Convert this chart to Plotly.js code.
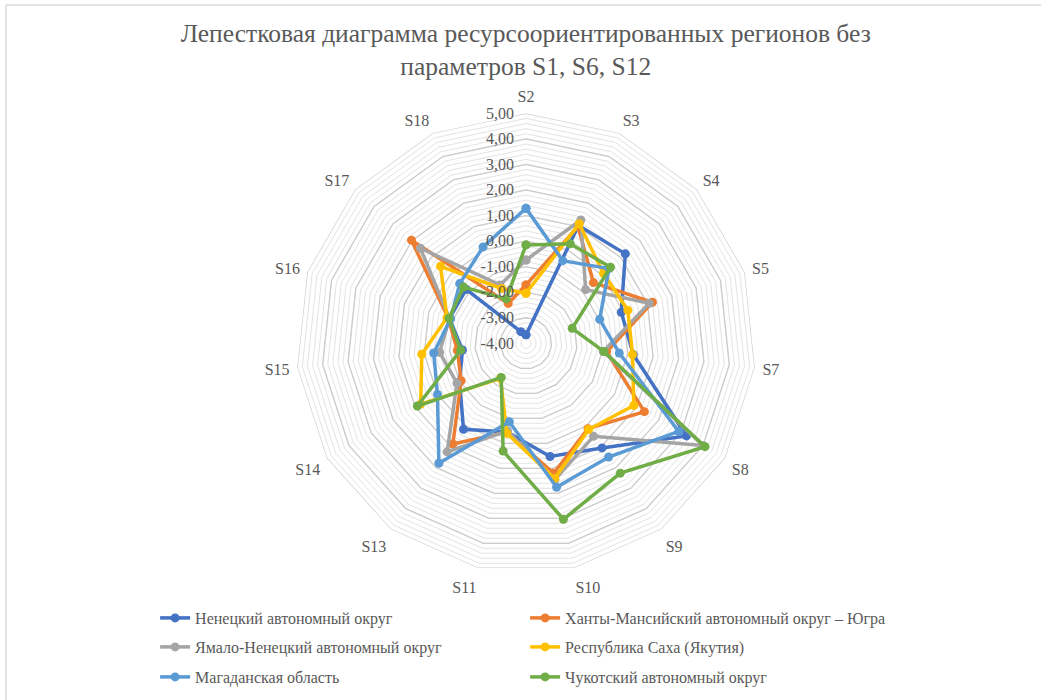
<!DOCTYPE html>
<html>
<head>
<meta charset="utf-8">
<script src="https://cdn.plot.ly/plotly-3.0.1.min.js"></script>
<style>html,body{margin:0;padding:0;background:#fff;}#chart{width:1041px;height:700px;}</style>
</head>
<body>
<div id="chart"></div>
<script>
const categories = ["S2","S3","S4","S5","S7","S8","S9","S10","S11","S13","S14","S15","S16","S17","S18"];
const seriesNames = ["Ненецкий автономный округ","Ханты-Мансийский автономный округ – Югра","Ямало-Ненецкий автономный округ","Республика Саха (Якутия)","Магаданская область","Чукотский автономный округ"];
const nenets   = [-3.67, 1.05, 1.23, -0.08, 0.22, 3.25, 1.06, 0.53, -0.45, 0.16, -1.00, -1.50, -0.85, -0.85, -3.50];
const khanty   = [-1.72, 1.00, -0.45, 1.20, -0.83, 1.35, 0.13, 1.20, -0.45, 0.87, -1.07, -1.30, -0.80, 2.03, -2.29];
const yamal    = [-0.74, 1.28, -0.86, 1.07, -0.96, 4.00, 0.50, 1.45, -0.50, 1.25, -0.88, -0.60, -0.85, 1.56, -1.50];
const sakha    = [-2.04, 1.12, 0.08, 0.19, 0.19, 0.87, 0.17, 1.41, -0.40, -2.30, 0.76, 0.10, -0.75, 0.50, -1.65];
const magadan  = [1.28, -0.46, 0.37, -0.97, -0.33, 2.90, 1.50, 1.76, -0.86, 1.80, 0.00, -0.37, -0.90, -0.51, 0.13];
const chukotka = [-0.15, 0.26, 0.45, -2.10, -0.93, 4.09, 2.28, 3.04, 0.31, -2.35, 0.91, -1.43, -0.83, -0.71, -2.10];
const seriesColors = ["#4472C4","#ED7D31","#A5A5A5","#FFC000","#5B9BD5","#70AD47"];
const majorTicks = [-4,-3,-2,-1,0,1,2,3,4,5];
const tickLabels = ["-4,00","-3,00","-2,00","-1,00","0,00","1,00","2,00","3,00","4,00","5,00"];
const titleText = "Лепестковая диаграмма ресурсоориентированных регионов без<br>параметров S1, S6, S12";

const FONT = "Liberation Serif";
const TXT = "#595959";
const close = a => a.concat([a[0]]);
const thetaC = close(categories);

const traces = [];
majorTicks.forEach(t => {
  traces.push({type:"scatterpolar", mode:"lines", r: thetaC.map(() => t), theta: thetaC,
    line:{color:"#cccccc", width:1.3}, hoverinfo:"skip", showlegend:false, cliponaxis:true});
});
const allSeries = [nenets, khanty, yamal, sakha, magadan, chukotka];
const legendIds = ["legend","legend","legend2","legend2","legend3","legend3"];
allSeries.forEach((s, i) => {
  traces.push({type:"scatterpolar", mode:"lines+markers", name: seriesNames[i],
    r: close(s), theta: thetaC, legend: legendIds[i], cliponaxis:true,
    line:{color: seriesColors[i], width:3.5},
    marker:{symbol:"circle", color: seriesColors[i], size:9, opacity:1, line:{width:0}}});
});

const minorVals = [], minorText = [];
for (let k = 0; k <= 45; k++) {
  const v = Math.round((-4 + k*0.2)*10)/10;
  minorVals.push(v);
  const idx = majorTicks.indexOf(v);
  minorText.push(idx >= 0 ? tickLabels[idx] : "");
}

const legendBase = {orientation:"h", x:0.149, xanchor:"left", yanchor:"middle",
  font:{family:FONT, size:16, color:TXT}, entrywidth:325, entrywidthmode:"pixels", bgcolor:"rgba(0,0,0,0)"};

const layout = {
  width:1041, height:700, margin:{l:0,r:0,t:0,b:0},
  font:{family:FONT, color:TXT},
  paper_bgcolor:"#fff", plot_bgcolor:"#fff",
  title:{text:titleText, font:{family:FONT, size:25.5, color:TXT}, x:0.505, xanchor:"center", y:1-42/700, yanchor:"top", yref:"container"},
  polar:{
    domain:{x:[(526-230)/1041,(526+230)/1041], y:[(700-343.3-230)/700,(700-343.3+230)/700]},
    gridshape:"linear", bgcolor:"rgba(0,0,0,0)",
    radialaxis:{range:[-4,5], tickvals:minorVals, ticktext:minorText, angle:90, side:"counterclockwise",
      showline:false, gridcolor:"#e3e3e3", gridwidth:1, ticks:"outside", ticklen:6, tickcolor:"rgba(0,0,0,0)",
      tickfont:{family:FONT, size:16, color:TXT}, tickangle:90},
    angularaxis:{direction:"clockwise", rotation:90, showgrid:false, showline:false,
      ticks:"outside", ticklen:4, tickcolor:"rgba(0,0,0,0)", tickfont:{family:FONT, size:16, color:TXT}}
  },
  legend: Object.assign({}, legendBase, {y:82/700}),
  legend2: Object.assign({}, legendBase, {y:53/700}),
  legend3: Object.assign({}, legendBase, {y:23/700}),
  shapes:[
    {type:"line", xref:"paper", yref:"paper", x0:6/1041, x1:1, y0:1-5/700, y1:1-5/700, line:{color:"#d9d9d9", width:1.5}},
    {type:"line", xref:"paper", yref:"paper", x0:6/1041, x1:6/1041, y0:0, y1:1-5/700, line:{color:"#d9d9d9", width:1.5}}
  ],
  showlegend:true
};
Plotly.newPlot("chart", traces, layout, {displayModeBar:false, staticPlot:true});
</script>
</body>
</html>
